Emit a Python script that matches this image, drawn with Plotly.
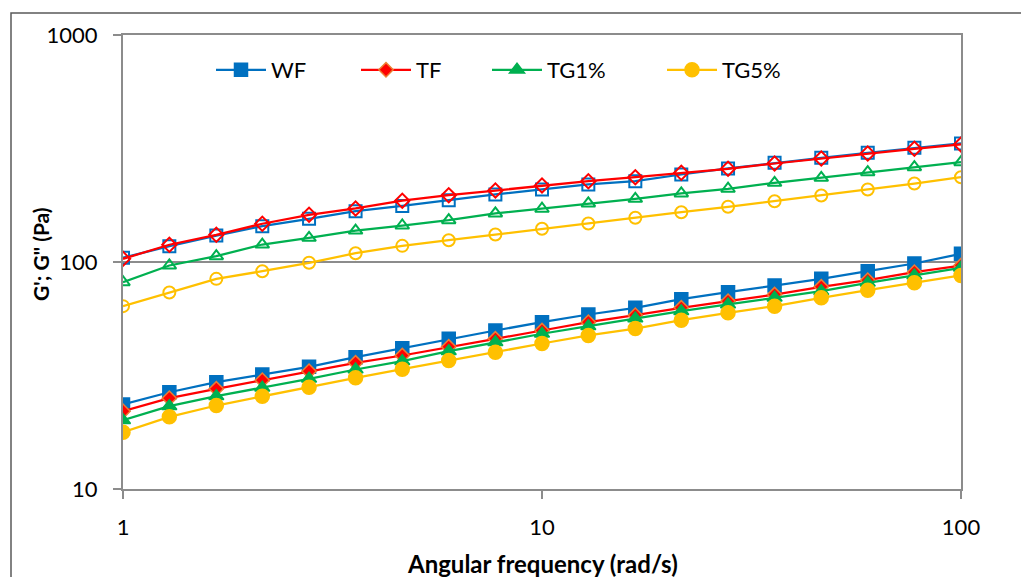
import plotly.graph_objects as go

# Angular frequency (rad/s)
freq = [1, 1.29, 1.67, 2.15, 2.78, 3.59, 4.64, 5.99, 7.74, 10,
        12.9, 16.7, 21.5, 27.8, 35.9, 46.4, 59.9, 77.4, 100]

# G' (storage modulus, open markers)
wf_g1 = [104.4, 117.4, 130.8, 143.8, 155.0, 167.4, 176.5, 187.2, 198.4, 208.7,
         219.5, 226.9, 242.9, 258.2, 273.5, 287.7, 302.7, 318.5, 332.7]
tf_g1 = [103.3, 119.1, 131.8, 147.4, 161.4, 172.1, 186.2, 196.9, 206.5, 217.3,
         226.9, 236.3, 247.2, 257.4, 271.6, 285.6, 300.6, 315.3, 329.4]
tg1_g1 = [81.5, 96.5, 106.1, 119.4, 127.8, 137.6, 144.8, 152.8, 163.6, 171.6,
          181.1, 189.9, 200.4, 210.2, 223.3, 234.9, 248.6, 261.6, 275.3]
tg5_g1 = [63.9, 73.4, 84.3, 91.1, 99.2, 109.3, 117.8, 124.7, 132.2, 140.1,
          147.8, 156.6, 165.7, 175.1, 185.3, 196.3, 208.7, 221.7, 236.3]

# G'' (loss modulus, filled markers)
wf_g2 = [23.56, 26.69, 29.55, 31.95, 34.54, 38.07, 41.68, 45.88, 49.91, 54.30,
         58.72, 62.85, 68.57, 73.62, 78.79, 84.33, 91.09, 98.49, 108.7]
tf_g2 = [22.02, 25.12, 27.63, 30.15, 33.04, 35.97, 38.73, 42.31, 45.88, 49.91,
         54.30, 58.30, 62.85, 67.20, 71.89, 77.75, 83.14, 90.18, 96.5]
tg1_g2 = [20.09, 23.16, 25.63, 27.91, 30.58, 33.61, 36.56, 40.46, 44.33, 48.29,
          52.15, 56.38, 60.72, 65.00, 69.55, 74.36, 81.00, 87.22, 94.28]
tg5_g2 = [17.79, 20.79, 23.32, 25.63, 28.08, 30.90, 33.71, 36.82, 40.06, 43.75,
          47.46, 50.93, 55.41, 59.73, 63.87, 69.55, 75.11, 81.00, 87.22]

names = ["WF", "TF", "TG1%", "TG5%"]
colors = ["#0070C0", "#FF0000", "#00B050", "#FFC000"]
fill_outline = ["#0070C0", "#ED7D31", "#00B050", "#FFC000"]
symbols = ["square", "diamond", "triangle-up", "circle"]
open_sizes = [12, 11, 12, 12]
fill_sizes = [13, 11, 13, 14]
g1_series = [wf_g1, tf_g1, tg1_g1, tg5_g1]
g2_series = [wf_g2, tf_g2, tg1_g2, tg5_g2]
legend_ids = ["legend", "legend2", "legend3", "legend4"]
legend_x = [211, 356, 487, 662]

W, H = 1021, 577
L, R, T, B = 123, 60, 35, 88
pw, ph = W - L - R, H - T - B

fig = go.Figure()
for i in range(4):
    fig.add_trace(go.Scatter(
        x=freq, y=g1_series[i], mode="lines+markers", name=names[i],
        showlegend=False,
        line=dict(color=colors[i], width=2.25),
        marker=dict(symbol=symbols[i] + "-open", size=open_sizes[i],
                    color=colors[i], line=dict(width=2, color=colors[i])),
    ))
for i in range(4):
    fig.add_trace(go.Scatter(
        x=freq, y=g2_series[i], mode="lines+markers", name=names[i],
        legend=legend_ids[i],
        line=dict(color=colors[i], width=2.25),
        marker=dict(symbol=symbols[i], size=fill_sizes[i], color=colors[i],
                    line=dict(width=1.5, color=fill_outline[i])),
    ))

font_family = "Lato, Carlito, 'Open Sans', sans-serif"
legend_common = dict(
    orientation="h", yanchor="middle", xanchor="left", itemwidth=50,
    bgcolor="rgba(0,0,0,0)", font=dict(size=22, color="#000000", family=font_family),
    itemclick=False,
)
layout_legends = {}
for i, lid in enumerate(legend_ids):
    layout_legends[lid] = dict(legend_common, x=(legend_x[i] - L) / pw,
                               y=(H - B - 70) / ph)

axis_color = "#8C8C8C"
fig.update_layout(
    width=W, height=H,
    margin=dict(l=L, r=R, t=T, b=B, autoexpand=False),
    paper_bgcolor="white", plot_bgcolor="white",
    font=dict(family=font_family, size=22, color="#000000"),
    xaxis=dict(
        type="log", range=[0, 2], tickvals=[1, 10, 100], ticktext=["1", "10", "100"],
        showgrid=False, zeroline=False,
        showline=True, linecolor=axis_color, linewidth=2, mirror=True,
        ticks="outside", ticklen=8, tickwidth=2, tickcolor=axis_color,
        ticklabelstandoff=10,
        tickfont=dict(size=22, color="#000000"),
    ),
    yaxis=dict(
        type="log", range=[1, 3], tickvals=[10, 100, 1000], ticktext=["10", "100", "1000"],
        showgrid=True, gridcolor=axis_color, gridwidth=2, zeroline=False,
        showline=True, linecolor=axis_color, linewidth=2, mirror=True,
        ticks="outside", ticklen=8, tickwidth=2, tickcolor=axis_color,
        ticklabelstandoff=11,
        tickfont=dict(size=22, color="#000000"),
    ),
    annotations=[
        dict(text="<b>Angular frequency (rad/s)</b>", xref="paper", yref="paper",
             x=(542 - L) / pw, y=(H - B - 563) / ph, xanchor="center", yanchor="middle",
             showarrow=False, font=dict(size=24, color="#000000")),
        dict(text="<b>G'; G\" (Pa)</b>", xref="paper", yref="paper",
             x=(40 - L) / pw, y=(H - B - 254) / ph, xanchor="center", yanchor="middle",
             textangle=-90, showarrow=False, font=dict(size=21, color="#000000")),
    ],
    shapes=[
        dict(type="rect", xref="paper", yref="paper",
             x0=(11 - L) / pw, x1=(W + 10 - L) / pw,
             y0=(H - B - (H + 10)) / ph, y1=(H - B - 13) / ph,
             line=dict(color="#595959", width=1.5), layer="below"),
    ],
    **layout_legends,
)

fig.write_html("out.html")
